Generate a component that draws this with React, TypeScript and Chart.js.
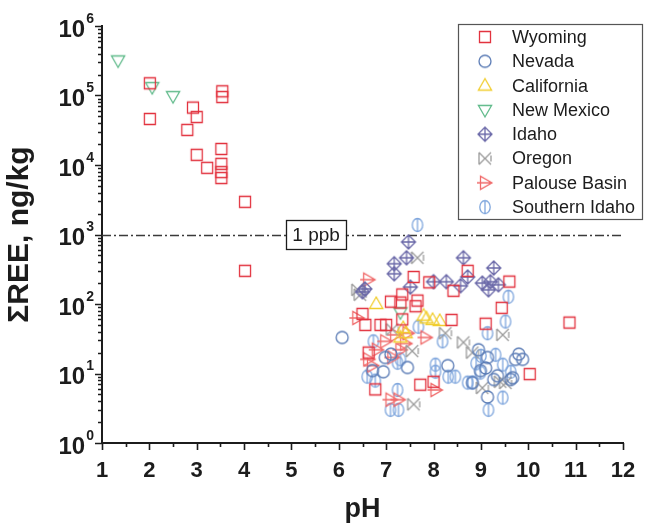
import React, { useEffect, useRef } from 'react';
import { Chart, registerables } from 'chart.js';

Chart.register(...registerables);

// ---------- data ----------
const seriesNames = ['Wyoming', 'Nevada', 'California', 'New Mexico', 'Idaho', 'Oregon', 'Palouse Basin', 'Southern Idaho'];

const wyomingPH = [2.01, 2.01, 2.92, 3.0, 2.8, 3.54, 3.54, 3.52, 3.0, 3.22, 3.52, 3.52, 3.52, 4.02, 4.02,
  7.58, 7.91, 8.42, 7.66, 8.72, 9.6, 9.44, 8.38, 9.1, 10.87, 10.03, 8.0, 7.72, 7.3, 7.1, 7.34, 6.5, 6.56, 6.88, 7.0, 6.63, 6.77, 7.34, 7.62];
const wyomingREE = [150000, 46000, 67000, 49000, 32000, 115000, 95000, 17000, 14000, 9100, 10400, 7900, 6500, 2950, 300,
  245, 205, 155, 112, 300, 210, 88, 59, 52, 54, 9.8, 7.6, 6.9, 105, 108, 60, 72, 50, 50, 50, 20, 5.9, 137, 93];

const nevadaPH = [6.07, 6.71, 6.94, 7.45, 6.98, 9.8, 9.88, 9.73, 9.67, 9.14, 9.27, 9.63, 9.1, 9.14, 8.95, 8.82, 8.99, 9.35, 7.1, 8.3];
const nevadaREE = [33, 11, 10.6, 12.2, 17, 19, 16, 16, 8.7, 17, 8.2, 8.2, 12, 4.6, 22, 7.4, 11, 9.3, 19, 13];

const californiaPH = [6.79, 7.79, 7.98, 8.13, 7.41, 7.36, 7.3, 7.85];
const californiaREE = [100, 68, 59, 57, 38, 45, 33, 62];

const newMexicoPH = [1.34, 2.06, 2.5, 7.3];
const newMexicoREE = [320000, 132000, 98000, 76];

const idahoPH = [7.47, 7.43, 7.17, 7.17, 8.63, 9.27, 6.5, 7.51, 8.0, 8.27, 8.57, 8.72, 9.03, 9.2, 9.16, 9.37, 6.55];
const idahoREE = [780, 462, 380, 272, 462, 330, 150, 175, 209, 209, 183, 245, 200, 209, 160, 189, 165];

const oregonPH = [7.66, 6.45, 9.46, 8.63, 8.82, 9.41, 9.03, 8.25, 7.58, 7.55, 7.13, 9.52, 6.4];
const oregonREE = [462, 136, 36, 28, 20, 7.6, 6.2, 38, 3.6, 21, 43, 7.3, 160];

const palousePH = [6.62, 6.39, 6.98, 6.62, 7.13, 7.3, 7.09, 7.26, 7.83, 8.04, 7.19, 7.45, 6.8, 7.4, 6.7];
const palouseREE = [224, 63, 29, 16, 17, 22, 4.2, 4.2, 33, 5.8, 36, 38, 22, 27, 13];

const southernIdahoPH = [7.66, 9.58, 9.52, 9.46, 9.46, 9.14, 8.19, 9.31, 8.04, 8.04, 8.31, 8.46, 8.72, 8.82, 9.16, 7.68, 6.73, 6.77, 7.24, 7.24, 7.09, 7.26, 7.3, 9.63, 8.99, 6.6, 8.9, 9.0];
const southernIdahoREE = [1370, 127, 56, 13.4, 4.5, 38, 29, 18.6, 13.4, 10.6, 9, 9, 7.4, 7.4, 3.0, 47, 29, 7.9, 14.3, 5.8, 3.0, 3.0, 16, 10.6, 10.3, 9, 14, 18];

const xTickValues = [1, 2, 3, 4, 5, 6, 7, 8, 9, 10, 11, 12];
const yDecades = [0, 1, 2, 3, 4, 5, 6];
const ppbValue = 1000;
const ppbLabel = '1 ppb';
const ppbLabelPH = 5.52;
const xTitle = 'pH';
const yTitle = 'ΣREE, ng/kg';

// ---------- styles ----------
const FONT = '"Liberation Sans", Arial, Helvetica, sans-serif';
const INK = '#1c1c1c';
const markerKinds = ['square', 'circle', 'triUp', 'triDown', 'diamondPlus', 'bowtie', 'triRight', 'circleBar'];
const markerColors = ['#e2333f', '#5a7bb5', '#f1cd2c', '#5fba8a', '#6a68a8', '#9b9b9b', '#f06a6a', '#7fa6dd'];

function makeMarker(kind: string, color: string): HTMLCanvasElement {
  const s = 20;
  const c = document.createElement('canvas');
  c.width = s;
  c.height = s;
  const g = c.getContext('2d') as CanvasRenderingContext2D;
  g.strokeStyle = color;
  g.lineWidth = 1.3;
  g.translate(s / 2, s / 2);
  g.beginPath();
  switch (kind) {
    case 'square':
      g.rect(-5.5, -5.5, 11, 11);
      break;
    case 'circle':
      g.arc(0, 0, 6, 0, Math.PI * 2);
      break;
    case 'triUp':
      g.moveTo(0, -7); g.lineTo(6.6, 4.5); g.lineTo(-6.6, 4.5); g.closePath();
      break;
    case 'triDown':
      g.moveTo(0, 7); g.lineTo(6.6, -4.5); g.lineTo(-6.6, -4.5); g.closePath();
      break;
    case 'diamondPlus':
      g.moveTo(0, -7); g.lineTo(7, 0); g.lineTo(0, 7); g.lineTo(-7, 0); g.closePath();
      g.moveTo(0, -7); g.lineTo(0, 7); g.moveTo(-7, 0); g.lineTo(7, 0);
      break;
    case 'bowtie':
      g.moveTo(-6, -6); g.lineTo(6, 6); g.moveTo(-6, 6); g.lineTo(6, -6);
      g.moveTo(-6, -6); g.lineTo(-6, 6); g.moveTo(6, -3); g.lineTo(6, 3);
      break;
    case 'triRight':
      g.moveTo(7, 0); g.lineTo(-4.5, -6.6); g.lineTo(-4.5, 6.6); g.closePath();
      g.moveTo(-8, 0); g.lineTo(7, 0);
      break;
    case 'circleBar':
      g.ellipse(0, 0, 5.2, 6.5, 0, 0, Math.PI * 2);
      g.moveTo(0, -6.5); g.lineTo(0, 6.5);
      break;
  }
  g.stroke();
  return c;
}

const seriesPH = [wyomingPH, nevadaPH, californiaPH, newMexicoPH, idahoPH, oregonPH, palousePH, southernIdahoPH];
const seriesREE = [wyomingREE, nevadaREE, californiaREE, newMexicoREE, idahoREE, oregonREE, palouseREE, southernIdahoREE];

export default function App() {
  const ref = useRef<HTMLCanvasElement | null>(null);

  useEffect(() => {
    const canvas = ref.current;
    if (!canvas) return;
    const markers = markerKinds.map((k, i) => makeMarker(k, markerColors[i]));

    const datasets = seriesNames.map((name, i) => ({
      label: name,
      data: seriesPH[i].map((x, j) => ({ x, y: seriesREE[i][j] })),
      pointStyle: markers[i] as any,
      pointRadius: 6,
      showLine: false,
    }));

    const decorations = {
      id: 'decorations',
      beforeDatasetsDraw(chart: any) {
        const { ctx, scales } = chart;
        const xs = scales.x;
        const ys = scales.y;
        const y = Math.round(ys.getPixelForValue(ppbValue)) + 0.5;
        ctx.save();
        ctx.strokeStyle = '#3a3a3a';
        ctx.lineWidth = 1.3;
        ctx.setLineDash([9, 3, 2, 3]);
        ctx.beginPath();
        ctx.moveTo(xs.getPixelForValue(xTickValues[0]), y);
        ctx.lineTo(xs.getPixelForValue(xTickValues[xTickValues.length - 1]), y);
        ctx.stroke();
        ctx.restore();
      },
      afterDatasetsDraw(chart: any) {
        const { ctx, scales } = chart;
        const xs = scales.x;
        const ys = scales.y;
        const area = chart.chartArea;
        ctx.save();
        // tick marks
        ctx.strokeStyle = INK;
        ctx.lineWidth = 1.6;
        ctx.beginPath();
        for (let i = 0; i < xTickValues.length; i++) {
          const px = Math.round(xs.getPixelForValue(xTickValues[i])) + 0.5;
          ctx.moveTo(px, area.bottom);
          ctx.lineTo(px, area.bottom + 7);
          if (i < xTickValues.length - 1) {
            const mx = Math.round(xs.getPixelForValue(xTickValues[i] + 0.5)) + 0.5;
            ctx.moveTo(mx, area.bottom);
            ctx.lineTo(mx, area.bottom + 4);
          }
        }
        for (let d = 0; d < yDecades.length; d++) {
          const py = Math.round(ys.getPixelForValue(Math.pow(10, yDecades[d]))) + 0.5;
          ctx.moveTo(area.left, py);
          ctx.lineTo(area.left - 7, py);
          if (d < yDecades.length - 1) {
            for (let k = 2; k <= 9; k++) {
              const my = Math.round(ys.getPixelForValue(k * Math.pow(10, yDecades[d]))) + 0.5;
              ctx.moveTo(area.left, my);
              ctx.lineTo(area.left - 4, my);
            }
          }
        }
        ctx.stroke();

        // y tick labels 10^n
        ctx.fillStyle = INK;
        ctx.textBaseline = 'middle';
        for (let d = 0; d < yDecades.length; d++) {
          const py = ys.getPixelForValue(Math.pow(10, yDecades[d]));
          ctx.font = `bold 14px ${FONT}`;
          ctx.textAlign = 'right';
          const ex = String(yDecades[d]);
          const exRight = area.left - 8;
          ctx.fillText(ex, exRight, py - 7);
          const exW = ctx.measureText(ex).width;
          ctx.font = `bold 24px ${FONT}`;
          ctx.fillText('10', exRight - exW - 1, py + 4);
        }

        // ppb label box
        const by = ys.getPixelForValue(ppbValue);
        const bx = xs.getPixelForValue(ppbLabelPH);
        ctx.font = `19px ${FONT}`;
        const tw = ctx.measureText(ppbLabel).width;
        const bw = tw + 12;
        const bh = 29;
        ctx.fillStyle = '#ffffff';
        ctx.fillRect(bx - bw / 2, by - bh / 2, bw, bh);
        ctx.strokeStyle = INK;
        ctx.lineWidth = 1.3;
        ctx.setLineDash([]);
        ctx.strokeRect(Math.round(bx - bw / 2) + 0.5, Math.round(by - bh / 2) + 0.5, Math.round(bw), bh);
        ctx.fillStyle = INK;
        ctx.textAlign = 'center';
        ctx.textBaseline = 'middle';
        ctx.fillText(ppbLabel, bx, by + 1);

        // legend
        const lx = 458.5, ly = 24.5, lw = 184, lh = 195;
        ctx.fillStyle = '#ffffff';
        ctx.fillRect(lx, ly, lw, lh);
        ctx.strokeStyle = '#555';
        ctx.lineWidth = 1.2;
        ctx.strokeRect(lx, ly, lw, lh);
        ctx.font = `18px ${FONT}`;
        ctx.textAlign = 'left';
        ctx.fillStyle = INK;
        for (let i = 0; i < seriesNames.length; i++) {
          const ry = 37 + i * 24.3;
          const m = markers[i];
          ctx.drawImage(m, 485 - m.width / 2, ry - m.height / 2);
          ctx.fillText(seriesNames[i], 512, ry + 1);
        }
        ctx.restore();
      },
    };

    const chart = new Chart(canvas, {
      type: 'scatter',
      data: { datasets },
      options: {
        animation: false,
        responsive: false,
        layout: { padding: { top: 26, right: 23, left: 0, bottom: 0 } },
        plugins: { legend: { display: false }, tooltip: { enabled: false } },
        scales: {
          x: {
            type: 'linear',
            min: 1,
            max: 12,
            afterFit: (s: any) => { s.height = 83; },
            grid: { display: false, drawTicks: true, tickLength: 8 },
            border: { display: true, color: INK, width: 2 },
            ticks: {
              stepSize: 1,
              padding: 7,
              color: INK,
              font: { family: FONT, size: 22, weight: 'bold' },
              maxRotation: 0,
              autoSkip: false,
            },
            title: {
              display: true,
              text: xTitle,
              color: INK,
              font: { family: FONT, size: 27, weight: 'bold' },
              padding: { top: 0, bottom: 0 },
            },
          },
          y: {
            type: 'logarithmic',
            min: 1,
            max: 1000000,
            afterFit: (s: any) => { s.width = 102; },
            grid: { display: false },
            border: { display: true, color: INK, width: 2 },
            ticks: { display: false },
            title: {
              display: true,
              text: yTitle,
              color: INK,
              font: { family: FONT, size: 30, weight: 'bold' },
              padding: { top: 2, bottom: 0 },
            },
          },
        },
      } as any,
      plugins: [decorations],
    });
    return () => chart.destroy();
  }, []);

  return (
    <div style={{ position: 'fixed', left: 0, top: 0, width: 646, height: 526, background: '#fff' }}>
      <canvas ref={ref} width={646} height={526} style={{ display: 'block' }} />
    </div>
  );
}
